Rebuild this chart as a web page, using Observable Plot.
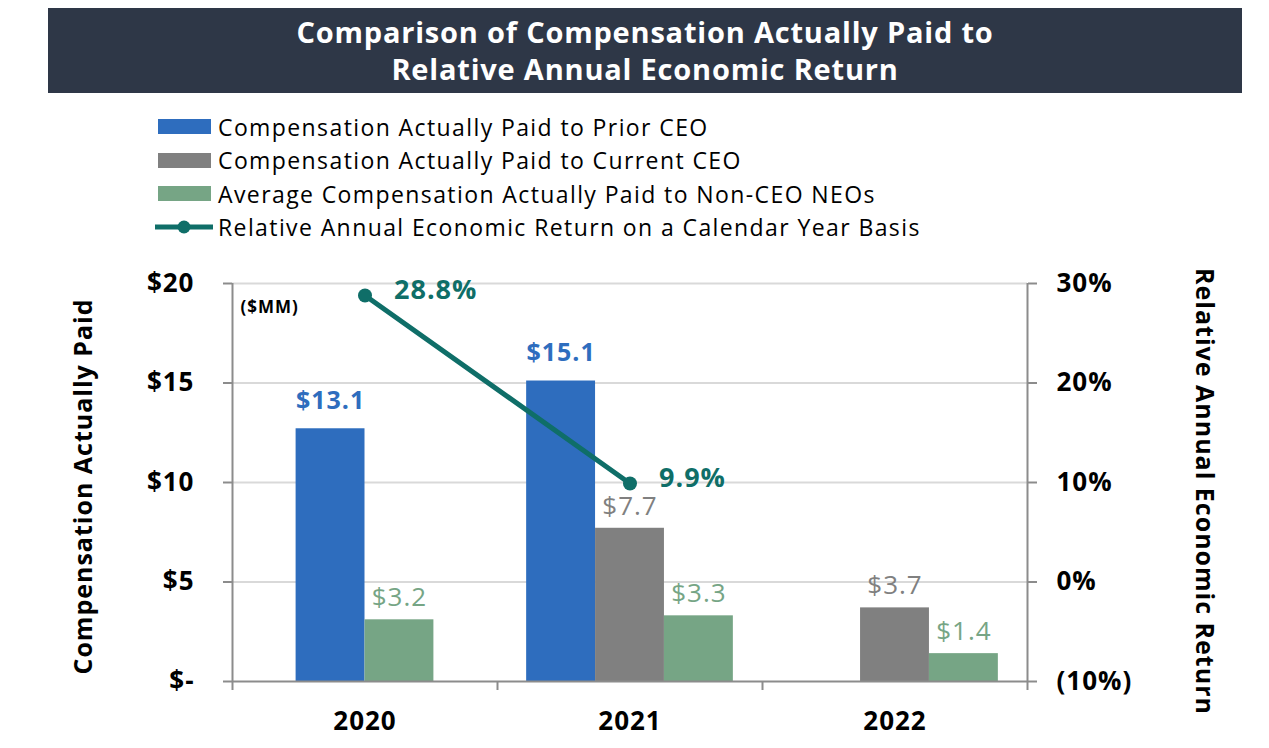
<!DOCTYPE html>
<html><head><meta charset="utf-8">
<script src="https://cdn.jsdelivr.net/npm/d3@7"></script>
<script src="https://cdn.jsdelivr.net/npm/@observablehq/plot@0.6"></script>
<style>
body{margin:0;background:#fff;font-family:"Open Sans",sans-serif;}
#wrap{position:relative;width:1269px;height:748px;overflow:hidden;background:#fff;}
#title{position:absolute;left:48px;top:8px;width:1194px;height:85px;background:#2E3747;color:#fff;font-weight:700;font-size:29px;letter-spacing:0.8px;line-height:37px;text-align:center;padding-top:5px;box-sizing:border-box;}
#legend{position:absolute;left:155px;top:110px;}
.row{display:flex;align-items:center;height:33.5px;font-size:23px;letter-spacing:1.4px;color:#000;white-space:nowrap;}
.sw{width:53px;height:15px;margin-left:3px;margin-right:7px;flex:none;}
.lsw{width:58px;height:16px;margin-right:5px;flex:none;}
#chart{position:absolute;left:0;top:250px;}
#chart svg text{letter-spacing:1px;}
</style></head>
<body>
<div id="wrap">
  <div id="title"></div>
  <div id="legend"></div>
  <div id="chart"></div>
</div>
<script>
// ---- data ----
const titleLines = ["Comparison of Compensation Actually Paid to", "Relative Annual Economic Return"];
const years = ["2020", "2021", "2022"];
const seriesNames = [
  "Compensation Actually Paid to Prior CEO",
  "Compensation Actually Paid to Current CEO",
  "Average Compensation Actually Paid to Non-CEO NEOs"
];
const lineName = "Relative Annual Economic Return on a Calendar Year Basis";
const priorCEO = [12.7, 15.1, null];
const priorCEOLabels = ["$13.1", "$15.1", null];
const currentCEO = [null, 7.7, 3.7];
const currentCEOLabels = [null, "$7.7", "$3.7"];
const nonCEO = [3.1, 3.3, 1.4];
const nonCEOLabels = ["$3.2", "$3.3", "$1.4"];
const relReturn = [28.8, 9.9, null];
const leftTicks = [0, 5, 10, 15, 20];
const rightTicks = [-10, 0, 10, 20, 30];
const leftTitle = "Compensation Actually Paid";
const rightTitle = "Relative Annual Economic Return";
const unitNote = "($MM)";

// ---- styles ----
const colors = ["#2E6DBE", "#808080", "#76A585"];
const teal = "#0F6E68";
const axisGray = "#8C8C8C";
const bw = 0.26; // bar width as a fraction of a year band

// title
document.getElementById("title").innerHTML = titleLines.map(t => `<div>${t}</div>`).join("");

// legend
const leg = document.getElementById("legend");
seriesNames.forEach((n, k) => {
  leg.insertAdjacentHTML("beforeend", `<div class="row"><div class="sw" style="background:${colors[k]}"></div><span>${n}</span></div>`);
});
leg.insertAdjacentHTML("beforeend", `<div class="row"><svg class="lsw" viewBox="0 0 58 16"><line x1="0" y1="8" x2="58" y2="8" stroke="${teal}" stroke-width="5"/><circle cx="29" cy="8" r="6.5" fill="${teal}"/></svg><span>${lineName}</span></div>`);

// rows
const valueSets = [priorCEO, currentCEO, nonCEO];
const labelSets = [priorCEOLabels, currentCEOLabels, nonCEOLabels];
const bars = [];
years.forEach((y, i) => {
  const compact = currentCEO[i] == null && priorCEO[i] != null; // cluster closes the gap
  valueSets.forEach((vals, s) => {
    if (vals[i] == null) return;
    let off = s - 1;
    if (compact) off = s === 0 ? -0.5 : 0.5;
    bars.push({year: y, i, series: seriesNames[s], s, value: vals[i], label: labelSets[s][i], off});
  });
});
const rMin = rightTicks[0], rMax = rightTicks[rightTicks.length - 1];
const toY = p => (p - rMin) / (rMax - rMin) * 20;
const ret = relReturn.map((v, i) => ({i, v})).filter(d => d.v != null);

const chart = Plot.plot({
  width: 1269, height: 498,
  marginTop: 33, marginBottom: 67, marginLeft: 232, marginRight: 242,
  x: {type: "linear", domain: [-0.5, 2.5], axis: null},
  y: {domain: [0, 20], axis: null},
  color: {domain: seriesNames, range: colors},
  style: {fontFamily: "'Open Sans', sans-serif", overflow: "visible", background: "transparent"},
  marks: [
    Plot.gridY([5, 10, 15, 20], {stroke: "#D9D9D9", strokeOpacity: 1, strokeWidth: 2}),
    Plot.rect(bars, {x1: d => d.i + (d.off - 0.5) * bw, x2: d => d.i + (d.off + 0.5) * bw, y1: 0, y2: "value", fill: "series"}),
    Plot.ruleY([0], {stroke: axisGray, strokeWidth: 2}),
    Plot.ruleX([-0.5, 2.5], {y1: 0, y2: 20, stroke: axisGray, strokeWidth: 2}),
    Plot.axisY({anchor: "left", ticks: leftTicks, tickFormat: v => v === 0 ? "$-" : "$" + v, tickSize: 9, tickPadding: 29, stroke: axisGray, strokeWidth: 2, fill: "#000", fontSize: 26, fontWeight: "bold", label: null}),
    Plot.axisY({anchor: "right", ticks: leftTicks, tickFormat: v => { const p = v / 20 * (rMax - rMin) + rMin; return p < 0 ? `(${-p}%)` : `${p}%`; }, tickSize: 9, tickPadding: 20, stroke: axisGray, strokeWidth: 2, fill: "#000", fontSize: 26, fontWeight: "bold", label: null}),
    Plot.axisX({ticks: [-0.5, 0.5, 1.5, 2.5], tickFormat: () => "", tickSize: 9, stroke: axisGray, strokeWidth: 2, label: null}),
    Plot.axisX({ticks: [0, 1, 2], tickFormat: i => years[i], tickSize: 0, tickPadding: 30, fill: "#000", fontSize: 26, fontWeight: "bold", label: null}),
    Plot.text(bars.filter(d => d.s === 0), {x: d => d.i + d.off * bw, y: "value", text: "label", fill: "series", dy: -28, lineAnchor: "middle", fontSize: 25, fontWeight: "bold"}),
    Plot.text(bars.filter(d => d.s !== 0), {x: d => d.i + d.off * bw, y: "value", text: "label", fill: "series", dy: -22, lineAnchor: "middle", fontSize: 26, fontWeight: "normal"}),
    Plot.line(ret, {x: "i", y: d => toY(d.v), stroke: teal, strokeWidth: 5}),
    Plot.dot(ret, {x: "i", y: d => toY(d.v), r: 7, fill: teal}),
    Plot.text(ret, {x: "i", y: d => toY(d.v), text: d => d.v.toFixed(1) + "%", fill: teal, textAnchor: "start", dx: 29, dy: -5, lineAnchor: "middle", fontSize: 27, fontWeight: "bold"}),
    Plot.text([unitNote], {text: d => d, frameAnchor: "top-left", dx: 8, dy: 24, lineAnchor: "middle", fontSize: 17, fontWeight: "bold", fill: "#000"}),
    Plot.text([leftTitle], {text: d => d, frameAnchor: "left", rotate: -90, dx: -149, dy: 4, textAnchor: "middle", lineAnchor: "middle", fontSize: 25, fontWeight: "bold", fill: "#000"}),
    Plot.text([rightTitle], {text: d => d, frameAnchor: "right", rotate: 90, dx: 176, dy: 9, textAnchor: "middle", lineAnchor: "middle", fontSize: 25, fontWeight: "bold", fill: "#000"})
  ]
});
document.getElementById("chart").appendChild(chart);
</script>
</body></html>
